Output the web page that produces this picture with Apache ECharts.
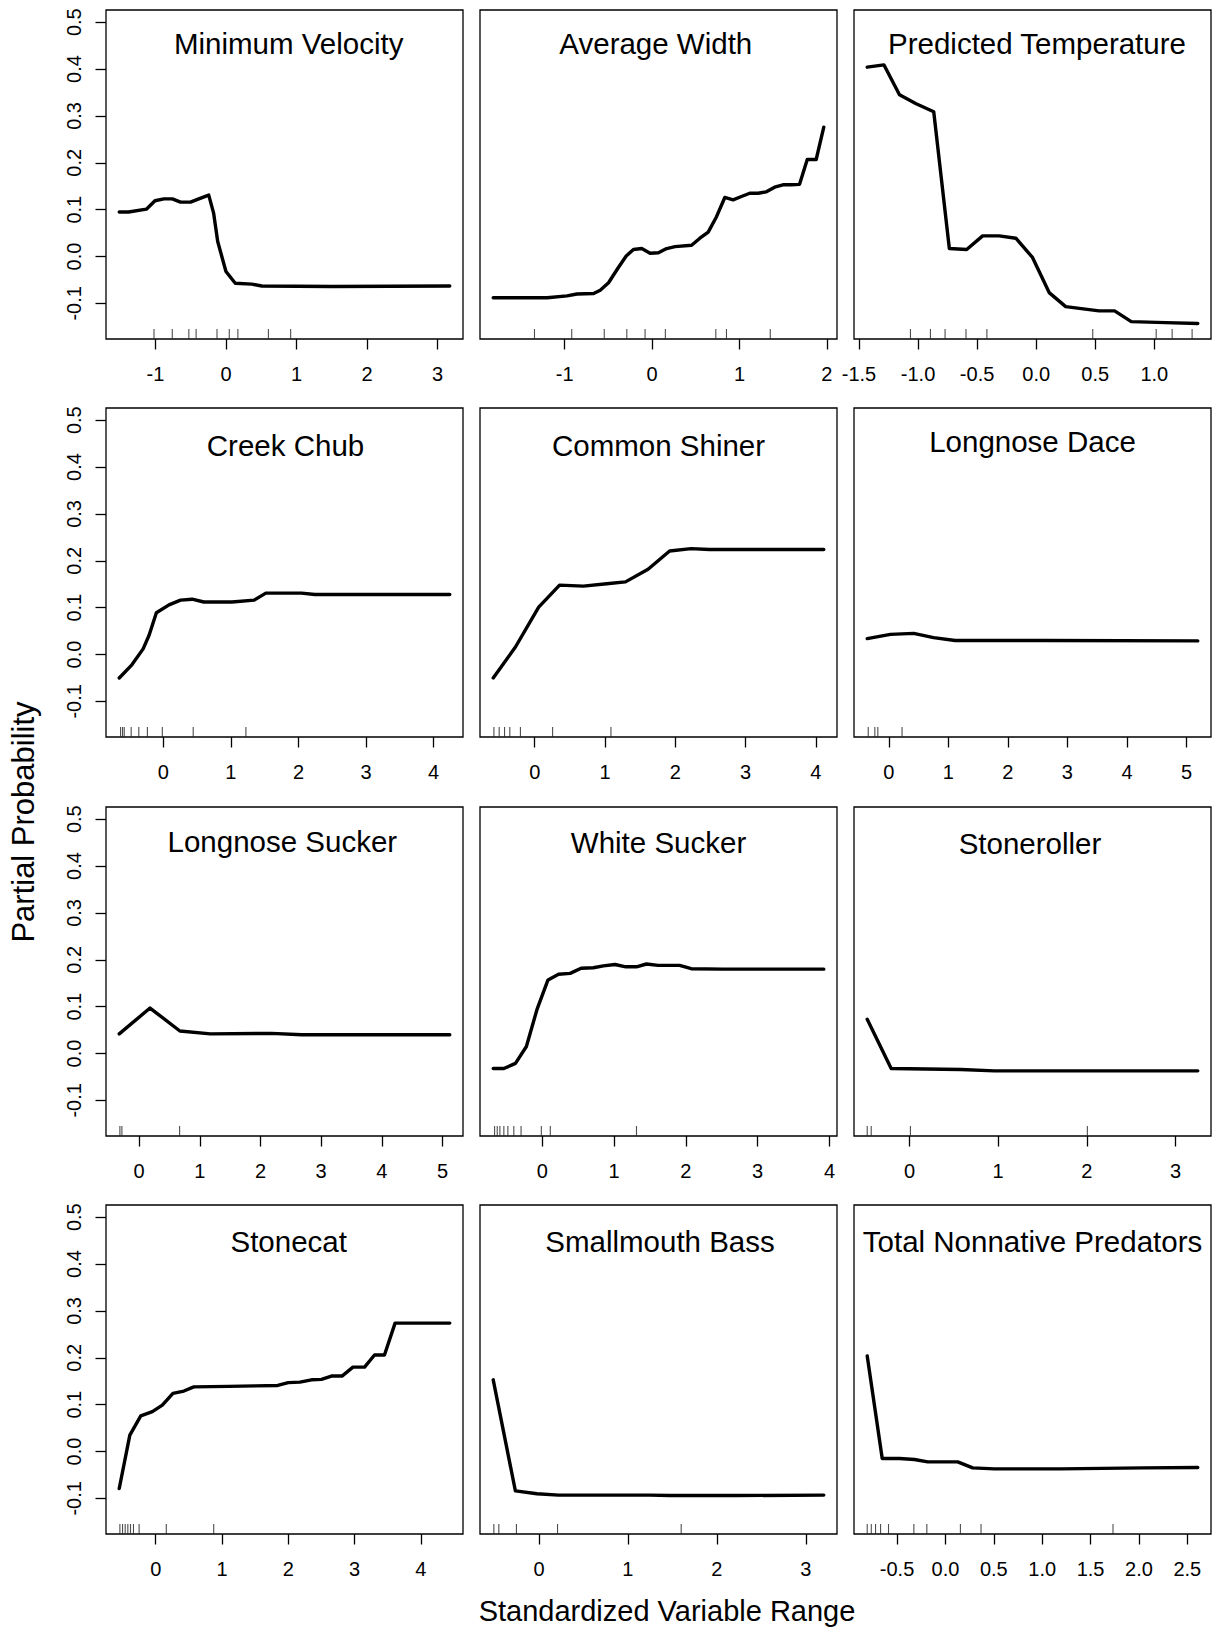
<!DOCTYPE html>
<html>
<head>
<meta charset="utf-8">
<script src="https://cdn.jsdelivr.net/npm/echarts@6/dist/echarts.min.js"></script>
<style>
html,body{margin:0;padding:0;background:#fff;}
#chart{width:1212px;height:1630px;}
</style>
</head>
<body>
<div id="chart"></div>
<script>
// ---------------- DATA ----------------
const panelTitles = ["Minimum Velocity", "Average Width", "Predicted Temperature",
  "Creek Chub", "Common Shiner", "Longnose Dace",
  "Longnose Sucker", "White Sucker", "Stoneroller",
  "Stonecat", "Smallmouth Bass", "Total Nonnative Predators"];

const yTicks = [-0.1, 0.0, 0.1, 0.2, 0.3, 0.4, 0.5];
const yLimits = [-0.15, 0.5];

// Minimum Velocity
const mvX = [-1.513, -1.38, -1.128, -1.006, -0.879, -0.76, -0.644, -0.503, -0.385, -0.244, -0.174, -0.117, 0.0, 0.132, 0.367, 0.508, 1.5, 3.173];
const mvY = [0.095, 0.095, 0.101, 0.119, 0.123, 0.123, 0.116, 0.116, 0.123, 0.131, 0.092, 0.032, -0.032, -0.057, -0.059, -0.063, -0.064, -0.063];
const mvRug = [-1.02, -0.761, -0.526, -0.423, -0.127, 0.047, 0.169, 0.602, 0.917];
const mvTicks = [-1, 0, 1, 2, 3];

// Average Width
const awX = [-1.817, -1.201, -0.973, -0.859, -0.669, -0.593, -0.498, -0.391, -0.296, -0.213, -0.118, -0.023, 0.072, 0.167, 0.262, 0.452, 0.547, 0.642, 0.737, 0.832, 0.927, 1.022, 1.117, 1.212, 1.307, 1.402, 1.497, 1.592, 1.687, 1.775, 1.877, 1.964];
const awY = [-0.088, -0.088, -0.084, -0.080, -0.079, -0.072, -0.056, -0.025, 0.001, 0.015, 0.017, 0.007, 0.008, 0.017, 0.021, 0.024, 0.039, 0.052, 0.085, 0.126, 0.121, 0.128, 0.135, 0.135, 0.138, 0.148, 0.153, 0.153, 0.154, 0.207, 0.207, 0.276];
const awRug = [-1.345, -0.919, -0.547, -0.289, -0.080, 0.152, 0.729, 0.851, 1.352];
const awTicks = [-1, 0, 1, 2];

// Predicted Temperature
const ptX = [-1.430, -1.289, -1.157, -1.016, -0.867, -0.735, -0.588, -0.453, -0.313, -0.172, -0.031, 0.110, 0.250, 0.532, 0.664, 0.805, 1.095, 1.368];
const ptY = [0.404, 0.409, 0.345, 0.326, 0.309, 0.017, 0.015, 0.044, 0.044, 0.039, -0.002, -0.077, -0.107, -0.116, -0.116, -0.139, -0.141, -0.143];
const ptRug = [-1.064, -0.895, -0.771, -0.594, -0.417, 0.479, 1.016, 1.151, 1.320];
const ptTicks = [-1.5, -1.0, -0.5, 0.0, 0.5, 1.0];

// Creek Chub
const ccX = [-0.653, -0.466, -0.299, -0.211, -0.103, 0.084, 0.255, 0.427, 0.599, 1.016, 1.345, 1.517, 2.047, 2.243, 4.24];
const ccY = [-0.050, -0.022, 0.012, 0.041, 0.089, 0.106, 0.116, 0.118, 0.112, 0.112, 0.116, 0.131, 0.131, 0.128, 0.128];
const ccRug = [-0.633, -0.604, -0.579, -0.476, -0.363, -0.236, -0.015, 0.442, 1.222];
const ccTicks = [0, 1, 2, 3, 4];

// Common Shiner
const csX = [-0.590, -0.274, 0.057, 0.354, 0.693, 1.024, 1.292, 1.613, 1.920, 2.226, 2.486, 4.113];
const csY = [-0.050, 0.016, 0.101, 0.148, 0.146, 0.151, 0.155, 0.182, 0.221, 0.226, 0.224, 0.224];
const csRug = [-0.580, -0.505, -0.429, -0.354, -0.203, 0.255, 1.085];
const csTicks = [0, 1, 2, 3, 4];

// Longnose Dace
const ldX = [-0.362, 0.028, 0.418, 0.752, 1.114, 2.617, 5.189];
const ldY = [0.034, 0.043, 0.045, 0.036, 0.030, 0.030, 0.029];
const ldRug = [-0.345, -0.234, -0.184, 0.223];
const ldTicks = [0, 1, 2, 3, 4, 5];

// Longnose Sucker
const lsX = [-0.328, 0.180, 0.672, 1.175, 2.186, 2.678, 5.120];
const lsY = [0.042, 0.097, 0.048, 0.042, 0.043, 0.040, 0.040];
const lsRug = [-0.317, -0.284, 0.667];
const lsTicks = [0, 1, 2, 3, 4, 5];

// White Sucker
const wsX = [-0.684, -0.536, -0.374, -0.222, -0.074, 0.079, 0.226, 0.388, 0.540, 0.711, 0.850, 1.012, 1.164, 1.312, 1.450, 1.612, 1.912, 2.074, 2.513, 2.836, 3.921];
const wsY = [-0.032, -0.032, -0.021, 0.015, 0.094, 0.157, 0.169, 0.171, 0.182, 0.183, 0.187, 0.190, 0.185, 0.185, 0.191, 0.188, 0.188, 0.181, 0.180, 0.180, 0.180];
const wsRug = [-0.665, -0.628, -0.591, -0.536, -0.480, -0.397, -0.296, -0.014, 0.111, 1.312];
const wsTicks = [0, 1, 2, 3, 4];

// Stoneroller
const srX = [-0.476, -0.206, 0.581, 0.956, 3.251];
const srY = [0.073, -0.032, -0.034, -0.037, -0.037];
const srRug = [-0.476, -0.431, 0.011, 2.006];
const srTicks = [0, 1, 2, 3];

// Stonecat
const scX = [-0.55, -0.39, -0.225, -0.05, 0.10, 0.26, 0.425, 0.575, 1.10, 1.50, 1.84, 2.00, 2.175, 2.35, 2.50, 2.65, 2.81, 2.975, 3.15, 3.30, 3.45, 3.61, 4.435];
const scY = [-0.079, 0.035, 0.076, 0.085, 0.099, 0.124, 0.129, 0.138, 0.139, 0.140, 0.141, 0.147, 0.148, 0.153, 0.154, 0.161, 0.161, 0.180, 0.180, 0.206, 0.206, 0.274, 0.274];
const scRug = [-0.54, -0.50, -0.46, -0.42, -0.38, -0.335, -0.25, 0.16, 0.875];
const scTicks = [0, 1, 2, 3, 4];

// Smallmouth Bass
const sbX = [-0.514, -0.265, -0.022, 0.220, 1.245, 1.468, 2.214, 3.202];
const sbY = [0.153, -0.084, -0.090, -0.093, -0.093, -0.094, -0.094, -0.093];
const sbRug = [-0.507, -0.451, -0.253, 0.209, 1.599];
const sbTicks = [0, 1, 2, 3];

// Total Nonnative Predators
const tnX = [-0.808, -0.653, -0.474, -0.320, -0.182, 0.127, 0.282, 0.505, 1.192, 2.052, 2.608];
const tnY = [0.204, -0.015, -0.015, -0.017, -0.022, -0.022, -0.035, -0.037, -0.037, -0.035, -0.034];
const tnRug = [-0.808, -0.766, -0.722, -0.670, -0.588, -0.326, -0.192, 0.155, 0.368, 1.732];
const tnTicks = [-0.5, 0.0, 0.5, 1.0, 1.5, 2.0, 2.5];

// ---------------- BUILD ----------------
const panels = [
  {x: mvX, y: mvY, rug: mvRug, ticks: mvTicks, dec: 0},
  {x: awX, y: awY, rug: awRug, ticks: awTicks, dec: 0},
  {x: ptX, y: ptY, rug: ptRug, ticks: ptTicks, dec: 1},
  {x: ccX, y: ccY, rug: ccRug, ticks: ccTicks, dec: 0},
  {x: csX, y: csY, rug: csRug, ticks: csTicks, dec: 0},
  {x: ldX, y: ldY, rug: ldRug, ticks: ldTicks, dec: 0},
  {x: lsX, y: lsY, rug: lsRug, ticks: lsTicks, dec: 0},
  {x: wsX, y: wsY, rug: wsRug, ticks: wsTicks, dec: 0},
  {x: srX, y: srY, rug: srRug, ticks: srTicks, dec: 0},
  {x: scX, y: scY, rug: scRug, ticks: scTicks, dec: 0},
  {x: sbX, y: sbY, rug: sbRug, ticks: sbTicks, dec: 0},
  {x: tnX, y: tnY, rug: tnRug, ticks: tnTicks, dec: 1}
];

const FONT = '"Liberation Sans", Arial, Helvetica, sans-serif';
const colLeft = [106, 480, 854];
const rowTop = [10, 408, 807, 1205];
const W = 357, H = 329;
const titleOffsetY = [33, 33, 33, 37, 37, 33.5, 34, 35.5, 36.5, 36, 36, 36];
const titleOffsetX = [4.2, -2.7, 4.5, 1, 0, 0, -2.2, 0, -2.5, 4.2, 1.5, 0];

// R-style 4% range extension
function extend(lo, hi) { const r = hi - lo; return [lo - 0.04 * r, hi + 0.04 * r]; }
const yRange = extend(yLimits[0], yLimits[1]);

const grids = [], xAxes = [], yAxes = [], series = [], titles = [];
panels.forEach((p, i) => {
  const col = i % 3, row = Math.floor(i / 3);
  const left = colLeft[col], top = rowTop[row];
  grids.push({left: left, top: top, width: W, height: H, show: true,
    borderColor: '#000', borderWidth: 1.3, backgroundColor: 'transparent',
    containLabel: false, outerBoundsMode: 'none'});
  const xr = extend(Math.min(...p.x), Math.max(...p.x));
  xAxes.push({type: 'value', gridIndex: i, min: xr[0], max: xr[1], position: 'bottom',
    axisLine: {show: false, onZero: false}, splitLine: {show: false},
    axisTick: {show: true, inside: false, length: 10.5, customValues: p.ticks,
      lineStyle: {color: '#000', width: 1.3}},
    axisLabel: {show: true, customValues: p.ticks, margin: 25, fontSize: 20,
      color: '#000', fontFamily: FONT, formatter: v => Number(v).toFixed(p.dec),
      showMinLabel: true, showMaxLabel: true}
  });
  const isLeft = col === 0;
  yAxes.push({type: 'value', gridIndex: i, min: yRange[0], max: yRange[1], position: 'left',
    axisLine: {show: false, onZero: false}, splitLine: {show: false},
    axisTick: {show: isLeft, inside: false, length: 10.5, customValues: yTicks,
      lineStyle: {color: '#000', width: 1.3}},
    axisLabel: {show: isLeft, customValues: yTicks, rotate: 90, margin: 22,
      fontSize: 20, color: '#000', fontFamily: FONT,
      formatter: v => Number(v).toFixed(1), showMinLabel: true, showMaxLabel: true}
  });
  series.push({type: 'line', xAxisIndex: i, yAxisIndex: i,
    data: p.x.map((v, k) => [v, p.y[k]]),
    showSymbol: false, symbol: 'none', silent: true, animation: false,
    lineStyle: {color: '#000', width: 3.4, cap: 'round', join: 'round'}});
  series.push({type: 'scatter', xAxisIndex: i, yAxisIndex: i,
    data: p.rug.map(v => [v, yRange[0]]), symbol: 'rect', symbolSize: [1.1, 10],
    symbolOffset: [0, -5], clip: false, silent: true, animation: false,
    itemStyle: {color: '#222'}});
  titles.push({text: panelTitles[i], left: left + W / 2 + titleOffsetX[i], top: top + titleOffsetY[i],
    textAlign: 'center', textVerticalAlign: 'middle', padding: 0,
    textStyle: {fontSize: 29.5, fontWeight: 'normal', color: '#000', fontFamily: FONT}});
});

const chart = echarts.init(document.getElementById('chart'), null, {renderer: 'svg'});
chart.setOption({
  animation: false,
  backgroundColor: '#fff',
  title: titles,
  grid: grids,
  xAxis: xAxes,
  yAxis: yAxes,
  series: series,
  graphic: [
    {type: 'text', x: 23, y: 822, rotation: Math.PI / 2,
      style: {text: 'Partial Probability', align: 'center', verticalAlign: 'middle',
        textAlign: 'center', textVerticalAlign: 'middle',
        fontSize: 31, fontFamily: FONT, fill: '#000'}},
    {type: 'text', x: 667, y: 1611,
      style: {text: 'Standardized Variable Range', align: 'center', verticalAlign: 'middle',
        textAlign: 'center', textVerticalAlign: 'middle',
        fontSize: 29, fontFamily: FONT, fill: '#000'}}
  ]
});
</script>
</body>
</html>
